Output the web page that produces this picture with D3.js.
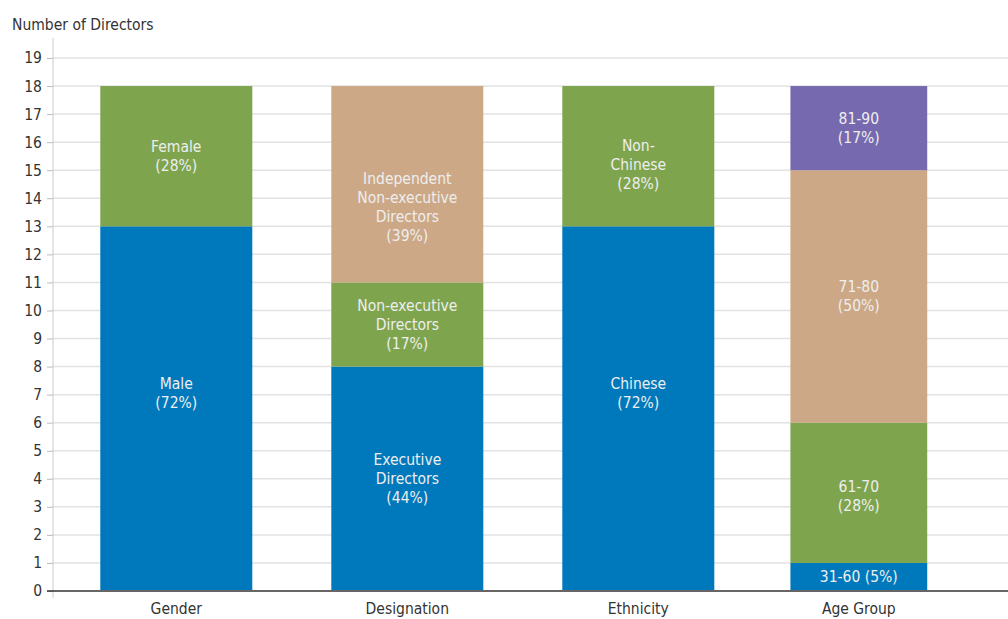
<!DOCTYPE html>
<html>
<head>
<meta charset="utf-8">
<script src="https://cdn.jsdelivr.net/npm/d3@7"></script>
<style>
  body { margin: 0; background: #fff; }
  svg text { font-family: "Liberation Sans Narrow", "DejaVu Sans Condensed", sans-serif; }
</style>
</head>
<body>
<svg id="chart" width="1008" height="619"></svg>
<script>
// columns and their stacked segments (bottom to top)
const categories = ["Gender", "Designation", "Ethnicity", "Age Group"];

const genderValues = [13, 5];
const genderNames = ["Male", "Female"];
const genderPct = ["72%", "28%"];

const designationValues = [8, 3, 7];
const designationNames = ["Executive\nDirectors", "Non-executive\nDirectors", "Independent\nNon-executive\nDirectors"];
const designationPct = ["44%", "17%", "39%"];

const ethnicityValues = [13, 5];
const ethnicityNames = ["Chinese", "Non-\nChinese"];
const ethnicityPct = ["72%", "28%"];

const ageValues = [1, 5, 9, 3];
const ageNames = ["31-60", "61-70", "71-80", "81-90"];
const agePct = ["5%", "28%", "50%", "17%"];

const yTicks = d3.range(0, 20);
const colors = ["#0079bc", "#7ea54e", "#cca886", "#7669af"];

const svg = d3.select("#chart"),
    width = +svg.attr("width"),
    height = +svg.attr("height");

const margin = {left: 53, right: 0, top: 58, bottom: 28};
const fontSize = "15.5px";

const x = d3.scaleBand()
    .domain(categories)
    .range([margin.left, width])
    .paddingInner(0.342)
    .paddingOuter(0.238)
    .align(0.43);

const y = d3.scaleLinear()
    .domain([0, 19])
    .range([height - margin.bottom, margin.top]);

// build stacked rows
const groups = [
  [genderValues, genderNames, genderPct],
  [designationValues, designationNames, designationPct],
  [ethnicityValues, ethnicityNames, ethnicityPct],
  [ageValues, ageNames, agePct]
];
const segments = [];
groups.forEach((g, i) => {
  let base = 0;
  g[0].forEach((v, j) => {
    segments.push({cat: categories[i], level: j, y0: base, y1: base + v, name: g[1][j], pct: g[2][j]});
    base += v;
  });
});

// the source draws the last column a bit narrower and shifted left
const colWidth = {"Age Group": 0.9};
const colShift = {"Age Group": -10.5};
// hand placed labels in the source
const labelNudge = {"Male": -16, "Chinese": -16, "Non-\nChinese": 8, "Independent\nNon-executive\nDirectors": 23, "61-70": 3};

function barX(d) {
  const w = x.bandwidth() * (colWidth[d.cat] || 1);
  return x(d.cat) + x.bandwidth() / 2 + (colShift[d.cat] || 0) - w / 2;
}
function barW(d) { return x.bandwidth() * (colWidth[d.cat] || 1); }

// gridlines
svg.append("g")
    .selectAll("line")
    .data(yTicks.filter(t => t > 0))
    .join("line")
      .attr("x1", margin.left)
      .attr("x2", width)
      .attr("y1", d => y(d))
      .attr("y2", d => y(d))
      .attr("stroke", "#e2e2e2")
      .attr("stroke-width", 1.5);

// y axis
const yAxis = svg.append("g")
    .attr("transform", `translate(${margin.left},0)`)
    .call(d3.axisLeft(y).tickValues(yTicks).tickSize(6).tickPadding(5));
yAxis.select(".domain").remove();
yAxis.selectAll(".tick line").attr("stroke", "#bbb");
yAxis.selectAll(".tick text")
    .attr("fill", "#333")
    .style("font-size", fontSize);
svg.append("line")
    .attr("x1", margin.left).attr("x2", margin.left)
    .attr("y1", 38).attr("y2", height - margin.bottom + 7)
    .attr("stroke", "#ccc");

// bars
svg.append("g")
    .selectAll("rect")
    .data(segments)
    .join("rect")
      .attr("x", barX)
      .attr("width", barW)
      .attr("y", d => y(d.y1))
      .attr("height", d => y(d.y0) - y(d.y1) - (d.y0 === 0 ? 1 : 0))
      .attr("fill", d => colors[d.level]);

// bar labels
const lineH = 19;
const labels = svg.append("g")
    .selectAll("text")
    .data(segments)
    .join("text")
      .attr("text-anchor", "middle")
      .attr("fill", "#eeeeee")
      .style("font-size", fontSize);

labels.each(function(d) {
  const segH = y(d.y0) - y(d.y1);
  let lines = d.name.split("\n");
  if (segH < lineH * 2) lines = [lines.join(" ") + " (" + d.pct + ")"];
  else lines.push("(" + d.pct + ")");
  const cx = barX(d) + barW(d) / 2;
  const cy = (y(d.y0) + y(d.y1)) / 2 + (labelNudge[d.name] || 0);
  const first = cy - (lines.length - 1) * lineH / 2;
  d3.select(this).selectAll("tspan")
    .data(lines)
    .join("tspan")
      .attr("x", cx)
      .attr("y", (l, k) => first + k * lineH)
      .attr("dy", "0.35em")
      .text(l => l);
});

// baseline
svg.append("line")
    .attr("x1", margin.left - 6).attr("x2", width)
    .attr("y1", y(0)).attr("y2", y(0))
    .attr("stroke", "#333")
    .attr("stroke-width", 1.5);

// x labels
svg.append("g")
    .selectAll("text")
    .data(categories)
    .join("text")
      .attr("x", d => x(d) + x.bandwidth() / 2 + (colShift[d] || 0))
      .attr("y", 614)
      .attr("text-anchor", "middle")
      .attr("fill", "#333")
      .style("font-size", fontSize)
      .text(d => d);

// axis title
svg.append("text")
    .attr("x", 12)
    .attr("y", 30)
    .attr("fill", "#333")
    .style("font-size", fontSize)
    .text("Number of Directors");
</script>
</body>
</html>
